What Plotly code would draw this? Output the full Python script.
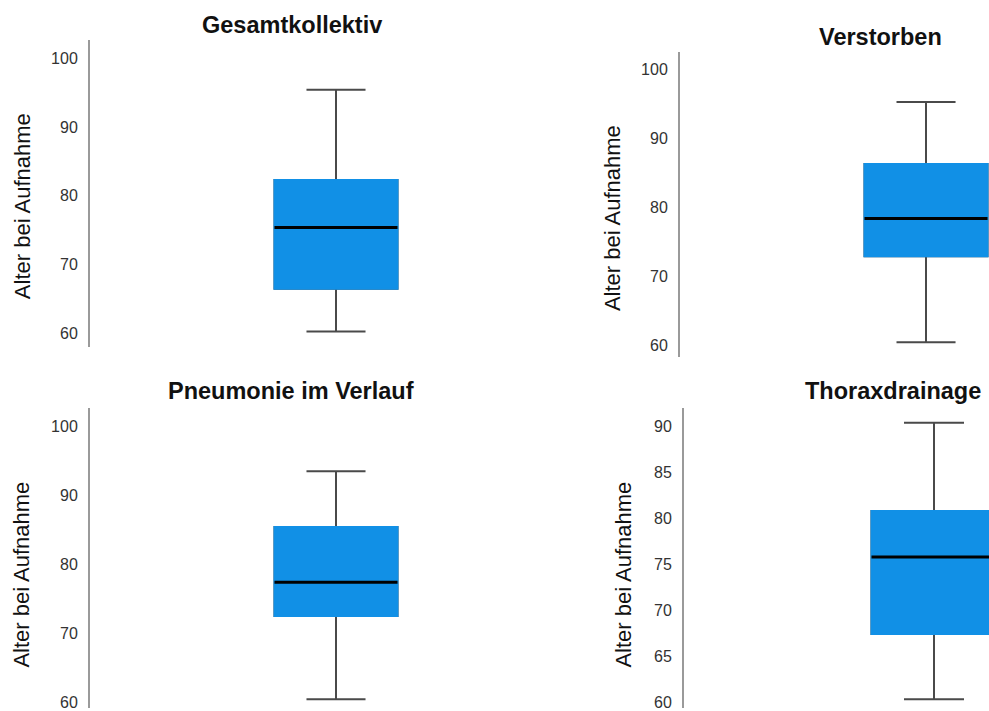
import plotly.graph_objects as go

# ---- data ----
panel_titles = ["Gesamtkollektiv", "Verstorben", "Pneumonie im Verlauf", "Thoraxdrainage"]
y_label = "Alter bei Aufnahme"
lower_whisker = [60.3, 60.4, 60.4, 60.3]
q1_values = [66.5, 72.9, 72.5, 67.4]
median_values = [75.4, 78.4, 77.4, 75.8]
q3_values = [82.3, 86.3, 85.4, 80.8]
upper_whisker = [95.4, 95.3, 93.5, 90.4]
tick_sets = [[60, 70, 80, 90, 100], [60, 70, 80, 90, 100], [60, 70, 80, 90, 100], [60, 65, 70, 75, 80, 85, 90]]

# ---- layout geometry (pixels of a 989 x 711 canvas) ----
W, H = 989, 711
BLUE = "#1190E6"
WHISK = "#4a4a4a"
AXIS = "#9a9a9a"
FONT = "Liberation Sans, Arial, sans-serif"

# per panel: x-domain px, y top/bottom px, x range, y range
panels = [
    dict(x0=90, x1=582, top=40, bot=348, xr=[-1, 1], yr=[58.12, 102.64]),
    dict(x0=680, x1=989, top=52, bot=359, xr=[-1, 0.256], yr=[58.2, 102.6]),
    dict(x0=90, x1=582, top=410, bot=711, xr=[-1, 1], yr=[59.13, 102.65]),
    dict(x0=684, x1=989, top=410, bot=711, xr=[-1, 0.22], yr=[59.35, 91.98]),
]
title_pos = [(292, 25), (880, 37), (291, 393), (893, 393)]
ylabel_pos = [(22, 207), (612, 219), (22, 577), (624, 577)]

fig = go.Figure()
layout = dict(
    width=W, height=H, margin=dict(l=0, r=0, t=0, b=0),
    paper_bgcolor="white", plot_bgcolor="white", showlegend=False,
    font=dict(family=FONT, color="#333333"),
)
annotations = []

for i, p in enumerate(panels):
    xa = "x" if i == 0 else f"x{i+1}"
    ya = "y" if i == 0 else f"y{i+1}"
    xkey = "xaxis" if i == 0 else f"xaxis{i+1}"
    ykey = "yaxis" if i == 0 else f"yaxis{i+1}"
    # whiskers + caps
    fig.add_trace(go.Box(
        x=[0], q1=[q1_values[i]], median=[median_values[i]], q3=[q3_values[i]],
        lowerfence=[lower_whisker[i]], upperfence=[upper_whisker[i]],
        width=0.5, whiskerwidth=0.48, fillcolor=BLUE,
        line=dict(color=WHISK, width=2), xaxis=xa, yaxis=ya, hoverinfo="skip",
    ))
    # blue box body covering the outline
    fig.add_trace(go.Box(
        x=[0], q1=[q1_values[i]], median=[median_values[i]], q3=[q3_values[i]],
        lowerfence=[q1_values[i]], upperfence=[q3_values[i]],
        width=0.5, whiskerwidth=0, fillcolor=BLUE,
        line=dict(color=BLUE, width=2), xaxis=xa, yaxis=ya, hoverinfo="skip",
    ))
    # black median line
    m = median_values[i]
    fig.add_trace(go.Box(
        x=[0], q1=[m], median=[m], q3=[m], lowerfence=[m], upperfence=[m],
        width=0.5, whiskerwidth=0, fillcolor="rgba(0,0,0,0)",
        line=dict(color="#000000", width=3), xaxis=xa, yaxis=ya, hoverinfo="skip",
    ))
    layout[xkey] = dict(
        domain=[p["x0"] / W, p["x1"] / W], range=p["xr"], visible=False,
        anchor=ya, fixedrange=True,
    )
    layout[ykey] = dict(
        domain=[(H - p["bot"]) / H, (H - p["top"]) / H], range=p["yr"],
        anchor=xa, showline=True, linecolor=AXIS, linewidth=2,
        showgrid=False, zeroline=False, ticks="", tickvals=tick_sets[i],
        tickfont=dict(size=16, color="#333333", family=FONT),
        ticklabelstandoff=7, ticklabeloverflow="allow",
    )
    tx, ty = title_pos[i]
    annotations.append(dict(
        text=f"<b>{panel_titles[i]}</b>", x=tx / W, y=1 - ty / H, xref="paper", yref="paper",
        showarrow=False, xanchor="center", yanchor="middle",
        font=dict(size=23.5, color="#111111", family=FONT),
    ))
    lx, ly = ylabel_pos[i]
    annotations.append(dict(
        text=y_label, x=lx / W, y=1 - ly / H, xref="paper", yref="paper",
        showarrow=False, xanchor="center", yanchor="middle", textangle=-90,
        font=dict(size=22, color="#111111", family=FONT),
    ))

layout["annotations"] = annotations
fig.update_layout(**layout)
fig.write_html(
    "out.html",
    config={"displayModeBar": False},
    post_script="document.body.style.margin='0px';document.body.style.overflow='hidden';",
)
